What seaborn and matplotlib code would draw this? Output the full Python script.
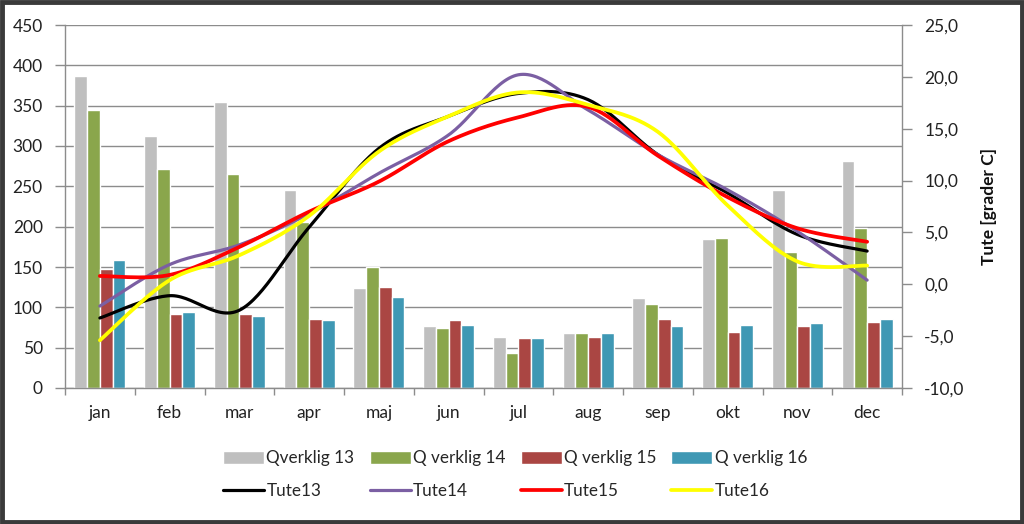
import numpy as np
import pandas as pd
import matplotlib
matplotlib.use('Agg')
import matplotlib.pyplot as plt
import seaborn as sns
from matplotlib.patches import Rectangle
from matplotlib.ticker import FuncFormatter, MultipleLocator, FixedLocator

months = ['jan', 'feb', 'mar', 'apr', 'maj', 'jun', 'jul', 'aug', 'sep', 'okt', 'nov', 'dec']
q13 = [387, 313, 355, 245, 124, 77, 63, 68, 112, 185, 245, 282]
q14 = [345, 271, 265, 206, 150, 74, 44, 68, 104, 186, 168, 198]
q15 = [148, 92, 92, 85, 125, 84, 62, 63, 86, 70, 77, 82]
q16 = [159, 94, 89, 84, 113, 78, 62, 68, 77, 78, 80, 85]
bar_labels = ['Qverklig 13', 'Q verklig 14', 'Q verklig 15', 'Q verklig 16']
bar_colors = ['#BFBFBF', '#8AA64C', '#AA4643', '#3F98B4']

tute13 = [-3.25, -1.1, -2.5, 5.5, 13.1, 16.2, 18.4, 17.8, 12.5, 8.8, 4.8, 3.2]
tute14 = [-2.1, 1.9, 3.8, 6.8, 10.7, 14.4, 20.2, 16.8, 12.5, 9.1, 5.1, 0.4]
tute15 = [0.8, 0.9, 3.6, 7.0, 9.9, 13.8, 16.1, 17.1, 12.4, 8.4, 5.4, 4.1]
tute16 = [-5.4, 0.4, 2.8, 6.6, 12.8, 16.2, 18.5, 17.3, 14.7, 7.6, 2.2, 1.8]
line_labels = ['Tute13', 'Tute14', 'Tute15', 'Tute16']
line_colors = ['#000000', '#7B5FA3', '#FF0000', '#FFFF00']
line_widths = [2.3, 2.3, 2.7, 2.7]


def smooth(y, n=30):
    """Excel-style smoothed line (Catmull-Rom Bezier) through the data points."""
    x = np.arange(len(y), dtype=float)
    y = np.asarray(y, dtype=float)
    pts = np.column_stack([x, y])
    out = []
    for i in range(len(pts) - 1):
        p0 = pts[i - 1] if i > 0 else pts[i]
        p1 = pts[i]
        p2 = pts[i + 1]
        p3 = pts[i + 2] if i + 2 < len(pts) else pts[i + 1]
        b1 = p1 + (p2 - p0) / 6.0
        b2 = p2 - (p3 - p1) / 6.0
        t = np.linspace(0, 1, n, endpoint=(i == len(pts) - 2))[:, None]
        seg = (1 - t) ** 3 * p1 + 3 * (1 - t) ** 2 * t * b1 + 3 * (1 - t) * t ** 2 * b2 + t ** 3 * p2
        out.append(seg)
    out = np.vstack(out)
    return out[:, 0], out[:, 1]


sns.set_style('white')
plt.rcParams['font.family'] = ['Lato', 'DejaVu Sans']
FS = 12.5
LFS = 12.3

fig = plt.figure(figsize=(10.24, 5.24), dpi=100)
ax = fig.add_axes([65 / 1024, 1 - 388 / 524, (902 - 65) / 1024, (388 - 25) / 524])

df = pd.DataFrame({
    'month': months * 4,
    'value': q13 + q14 + q15 + q16,
    'series': sum([[l] * 12 for l in bar_labels], []),
})
sns.barplot(data=df, x='month', y='value', hue='series', hue_order=bar_labels,
            palette=bar_colors, width=0.73, gap=0, saturation=1, errorbar=None,
            ax=ax, zorder=2)
bar_handles, _ = ax.get_legend_handles_labels()
if ax.get_legend() is not None:
    ax.get_legend().remove()

ax.set_xlim(-0.5, 11.5)
ax.set_ylim(0, 450)
ax.yaxis.set_major_locator(MultipleLocator(50))
ax.grid(axis='y', color='#8C8C8C', lw=1.0, zorder=0)
ax.set_axisbelow(True)
ax.set_xlabel('')
ax.set_ylabel('')
for s in ['top', 'right']:
    ax.spines[s].set_visible(False)
for s in ['left', 'bottom']:
    ax.spines[s].set_color('#8C8C8C')
    ax.spines[s].set_linewidth(1.0)
ax.tick_params(axis='y', length=7, width=1, color='#8C8C8C', pad=9, labelsize=FS, labelcolor='#222222', left=True)
ax.tick_params(axis='x', which='major', length=0, pad=12, labelsize=FS, labelcolor='#222222')
ax.xaxis.set_minor_locator(FixedLocator(np.arange(-0.5, 12, 1)))
ax.tick_params(axis='x', which='minor', length=5, width=1, color='#8C8C8C', bottom=True)

ax2 = ax.twinx()
for vals, lab, col, lw in zip([tute13, tute14, tute15, tute16], line_labels, line_colors, line_widths):
    xs, ys = smooth(vals)
    sns.lineplot(x=xs, y=ys, ax=ax2, color=col, lw=lw, sort=False, estimator=None, label=lab)
lh, _ = ax2.get_legend_handles_labels()
if ax2.get_legend() is not None:
    ax2.get_legend().remove()

ax2.set_ylim(-10, 25)
ax2.yaxis.set_major_locator(MultipleLocator(5))
ax2.yaxis.set_major_formatter(FuncFormatter(lambda v, p: f'{v:.1f}'.replace('.', ',')))
for s in ['top', 'left', 'bottom']:
    ax2.spines[s].set_visible(False)
ax2.spines['right'].set_color('#8C8C8C')
ax2.spines['right'].set_linewidth(1.0)
ax2.tick_params(axis='y', length=7, width=1, color='#8C8C8C', pad=9, labelsize=FS, labelcolor='#222222', right=True)
ax2.set_ylabel('Tute [grader C]', fontsize=FS, fontweight='bold', color='#111111')
ax2.yaxis.set_label_coords(1.094, 0.5)
ax2.set_xlim(-0.5, 11.5)

# legend: columns pair bar (row 1) with line (row 2)
handles, labels = [], []
for i in range(4):
    handles += [bar_handles[i], lh[i]]
    labels += [bar_labels[i], line_labels[i]]
fig.legend(handles, labels, loc='center', bbox_to_anchor=(0.503, 0.094), ncol=4,
           frameon=False, fontsize=LFS, handlelength=2.4, handleheight=0.75,
           handletextpad=0.12, columnspacing=0.9, labelspacing=1.0)

fig.patches.append(Rectangle((0.0015, 0.003), 0.997, 0.994, transform=fig.transFigure,
                             fill=False, edgecolor='#3A3A3A', lw=3.5, zorder=10))

fig.savefig('out.png', dpi=100)
